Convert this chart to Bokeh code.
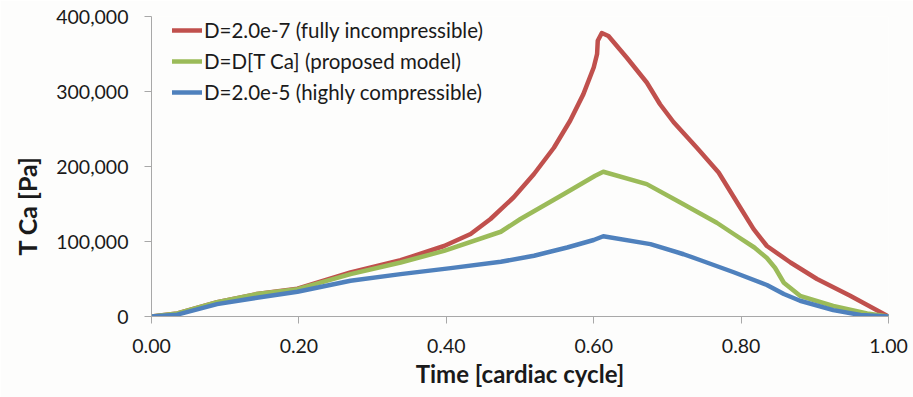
import math
from bokeh.plotting import figure
from bokeh.models import Range1d, Legend, LegendItem, Title, NumeralTickFormatter, FixedTicker
from bokeh.embed import file_html
from bokeh.resources import INLINE

# Data (time in cardiac cycle, T Ca in Pa)
t_incompressible = [0, 0.035, 0.089, 0.143, 0.198, 0.270, 0.338, 0.397, 0.433, 0.460, 0.4915,
                    0.519, 0.546, 0.568, 0.586, 0.600, 0.6046, 0.6055, 0.611, 0.620, 0.645, 0.672,
                    0.690, 0.7085, 0.740, 0.7695, 0.799, 0.817, 0.835, 0.867, 0.903, 0.948, 1.0]
v_incompressible = [0, 4000, 19000, 30000, 37000, 58700, 75000, 94000, 110000, 130000, 159000,
                    190000, 225000, 261000, 296500, 332000, 350000, 367600, 378000, 374000, 345000, 312000,
                    283000, 259000, 225000, 192000, 145000, 116500, 94000, 72000, 50000, 27600, 0]

t_proposed = [0, 0.035, 0.089, 0.143, 0.198, 0.270, 0.338, 0.397, 0.474, 0.5006, 0.559, 0.602,
              0.613, 0.672, 0.7175, 0.745, 0.767, 0.790, 0.818, 0.835, 0.846, 0.858, 0.880, 0.925, 0.971, 1.0]
v_proposed = [0, 4000, 19000, 30000, 36500, 56500, 72000, 87600, 113000, 130000, 163000, 187600,
              193000, 176500, 152000, 137000, 125000, 110000, 92000, 78000, 65000, 45000, 27600, 14000, 4000, 0]

t_compressible = [0, 0.035, 0.089, 0.143, 0.198, 0.270, 0.338, 0.406, 0.474, 0.519, 0.564, 0.600,
                  0.613, 0.677, 0.722, 0.745, 0.790, 0.835, 0.858, 0.880, 0.925, 0.962, 1.0]
v_compressible = [0, 2500, 16500, 25000, 33000, 47600, 56500, 64500, 73000, 81000, 92000, 102000,
                  107000, 96500, 83000, 75000, 59000, 42000, 30000, 21000, 8500, 2000, 0]

series_labels = ["D=2.0e-7 (fully incompressible)",
                 "D=D[T Ca] (proposed model)",
                 "D=2.0e-5 (highly compressible)"]
x_ticks = [0.0, 0.2, 0.4, 0.6, 0.8, 1.0]
y_ticks = [0, 100000, 200000, 300000, 400000]
x_title = "Time [cardiac cycle]"
y_title = "T Ca [Pa]"

FONT = "Lato"

p = figure(frame_width=737, frame_height=300,
           min_border_left=151, min_border_right=25, min_border_top=16, min_border_bottom=81,
           x_range=Range1d(0, 1), y_range=Range1d(0, 400000),
           output_backend="svg", toolbar_location=None)
p.background_fill_color = "#fdfdfc"
p.border_fill_color = "#fdfdfc"
p.outline_line_color = None
p.xgrid.visible = False
p.ygrid.visible = False

colors = ["#C0504D", "#9BBB59", "#4F81BD"]
renderers = []
for (tx, vy), c in zip([(t_incompressible, v_incompressible),
                        (t_proposed, v_proposed),
                        (t_compressible, v_compressible)], colors):
    r = p.line(tx, vy, line_color=c, line_width=4.5, line_join="round", line_cap="round")
    renderers.append(r)

for ax in (p.xaxis[0], p.yaxis[0]):
    ax.axis_line_color = "#a8a8a8"
    ax.major_tick_line_color = "#a8a8a8"
    ax.minor_tick_line_color = None
    ax.major_tick_in = 0
    ax.major_tick_out = 7
    ax.major_label_text_font = FONT
    ax.major_label_text_font_size = "19.5px"
    ax.major_label_text_color = "#1a1a1a"

p.xaxis.ticker = FixedTicker(ticks=x_ticks)
p.xaxis.formatter = NumeralTickFormatter(format="0.00")
p.xaxis.major_label_standoff = 15
p.xaxis.axis_label = x_title
p.xaxis.axis_label_text_font = FONT
p.xaxis.axis_label_text_font_style = "bold"
p.xaxis.axis_label_text_font_size = "24px"
p.xaxis.axis_label_text_color = "#1a1a1a"
p.xaxis.axis_label_standoff = 3

p.yaxis.ticker = FixedTicker(ticks=y_ticks)
p.yaxis.formatter = NumeralTickFormatter(format="0,0")
p.yaxis.major_label_standoff = 16

ytitle = Title(text=y_title, align="left", vertical_align="top", offset=61, standoff=19,
               text_font=FONT, text_font_style="bold", text_font_size="25px",
               text_color="#1a1a1a")
p.add_layout(ytitle, "left")

legend = Legend(items=[LegendItem(label=l, renderers=[r]) for l, r in zip(series_labels, renderers)],
                location="top_left", margin=0, padding=0, spacing=3,
                label_height=28, glyph_height=28, glyph_width=30, label_standoff=2,
                label_text_font=FONT, label_text_font_size="20.5px", label_text_color="#1a1a1a",
                background_fill_alpha=0, border_line_color=None)
legend.location = (21, 210)
p.add_layout(legend)

open("out.html", "w").write(file_html(p, INLINE))
